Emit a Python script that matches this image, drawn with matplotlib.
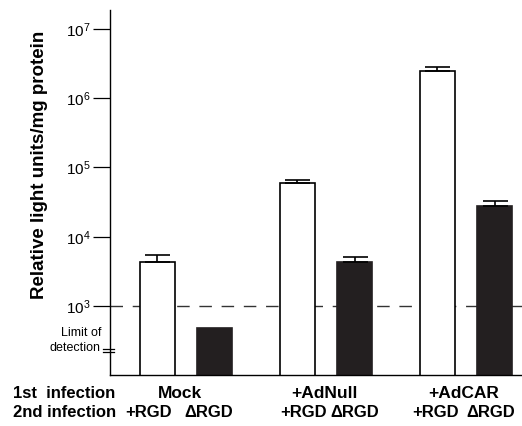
import numpy as np
import matplotlib.pyplot as plt
import matplotlib.transforms as mtransforms

plt.rcParams['font.family'] = ['Liberation Sans', 'DejaVu Sans']
plt.rcParams['mathtext.fontset'] = 'custom'
plt.rcParams['mathtext.rm'] = 'Liberation Sans'
plt.rcParams['mathtext.it'] = 'Liberation Sans'

# data
groups = ['Mock', '+AdNull', '+AdCAR']
second = ['+RGD', '\u0394RGD']
rgd_vals = [4300, 59600, 2460000]
rgd_err = [1150, 6200, 350000]
drgd_vals = [480, 4300, 27700]
drgd_err = [0, 800, 5000]
detection_limit = 230

fig = plt.figure(figsize=(5.22, 4.26), dpi=100)
ax = fig.add_axes([0.2107, 0.1197, 0.7893, 0.8568])

x = np.arange(len(groups))
off = 0.204
w = 0.254

# dashed reference line at 10^3 (behind bars)
ax.axhline(1e3, color='#333333', lw=1.0, ls=(0, (9, 7)), zorder=1)

ax.bar(x - off, rgd_vals, w, color='white', edgecolor='black', lw=1.2, zorder=2)
ax.bar(x + off, drgd_vals, w, color='#231f20', edgecolor='#231f20', lw=1.2, zorder=2)
ax.errorbar(x - off, rgd_vals, yerr=[np.zeros(3), rgd_err], fmt='none',
            ecolor='black', elinewidth=1.2, capsize=9, capthick=1.2, zorder=3)
ax.errorbar((x + off)[1:], drgd_vals[1:], yerr=[np.zeros(2), drgd_err[1:]], fmt='none',
            ecolor='black', elinewidth=1.2, capsize=9, capthick=1.2, zorder=3)

ax.set_yscale('log')
ax.set_ylim(101, 10**7.271)
ax.set_xlim(-0.543, 2.4)
ax.set_yticks([1e3, 1e4, 1e5, 1e6, 1e7])
ax.yaxis.set_minor_locator(plt.NullLocator())
ax.set_yticklabels([r'$\mathregular{10^{%d}}$' % k for k in range(3, 8)])
ax.tick_params(axis='y', length=12, width=0.9, labelsize=11, pad=2)
ax.set_xticks([])
for s in ['top', 'right']:
    ax.spines[s].set_visible(False)
ax.spines['left'].set_linewidth(1.0)
ax.spines['bottom'].set_linewidth(1.0)

ax.set_ylabel('Relative light units/mg protein', fontsize=13.5, fontweight='bold')
ax.yaxis.set_label_coords(-0.15, 0.575)

# limit of detection break marks
trans = mtransforms.blended_transform_factory(ax.transAxes, ax.transData)
for f in [0.95, 1.05]:
    ax.plot([-0.017, 0.01], [detection_limit * f, detection_limit * f], color='black',
            lw=0.9, transform=trans, clip_on=False)
ax.annotate('Limit of\ndetection', xy=(-0.022, detection_limit), xycoords=trans,
            xytext=(0, 7), textcoords='offset points', ha='right', va='center',
            fontsize=9, linespacing=1.3)

# category labels below axis
row1 = -0.03
row2 = -0.082
tf = mtransforms.blended_transform_factory(fig.transFigure, ax.transAxes)
ax.text(0.024, row1, '1st  infection', transform=tf, fontsize=12, fontweight='bold', ha='left', va='top')
ax.text(0.024, row2, '2nd infection', transform=tf, fontsize=12, fontweight='bold', ha='left', va='top')
tb = mtransforms.blended_transform_factory(ax.transData, ax.transAxes)
grp_shift = [-0.043, -0.014, -0.014]
rgd_shift = [-0.067, 0.047, -0.01]
drgd_shift = [-0.04, 0.003, -0.025]
for i, g in enumerate(groups):
    ax.text(x[i] + grp_shift[i], row1, g, transform=tb, fontsize=12.5, fontweight='bold',
            ha='center', va='top')
    ax.text(x[i] - off + rgd_shift[i], row2, second[0], transform=tb, fontsize=12,
            fontweight='bold', ha='center', va='top')
    ax.text(x[i] + off + drgd_shift[i], row2, second[1], transform=tb, fontsize=12,
            fontweight='bold', ha='center', va='top')

fig.savefig('out.png', dpi=100)
